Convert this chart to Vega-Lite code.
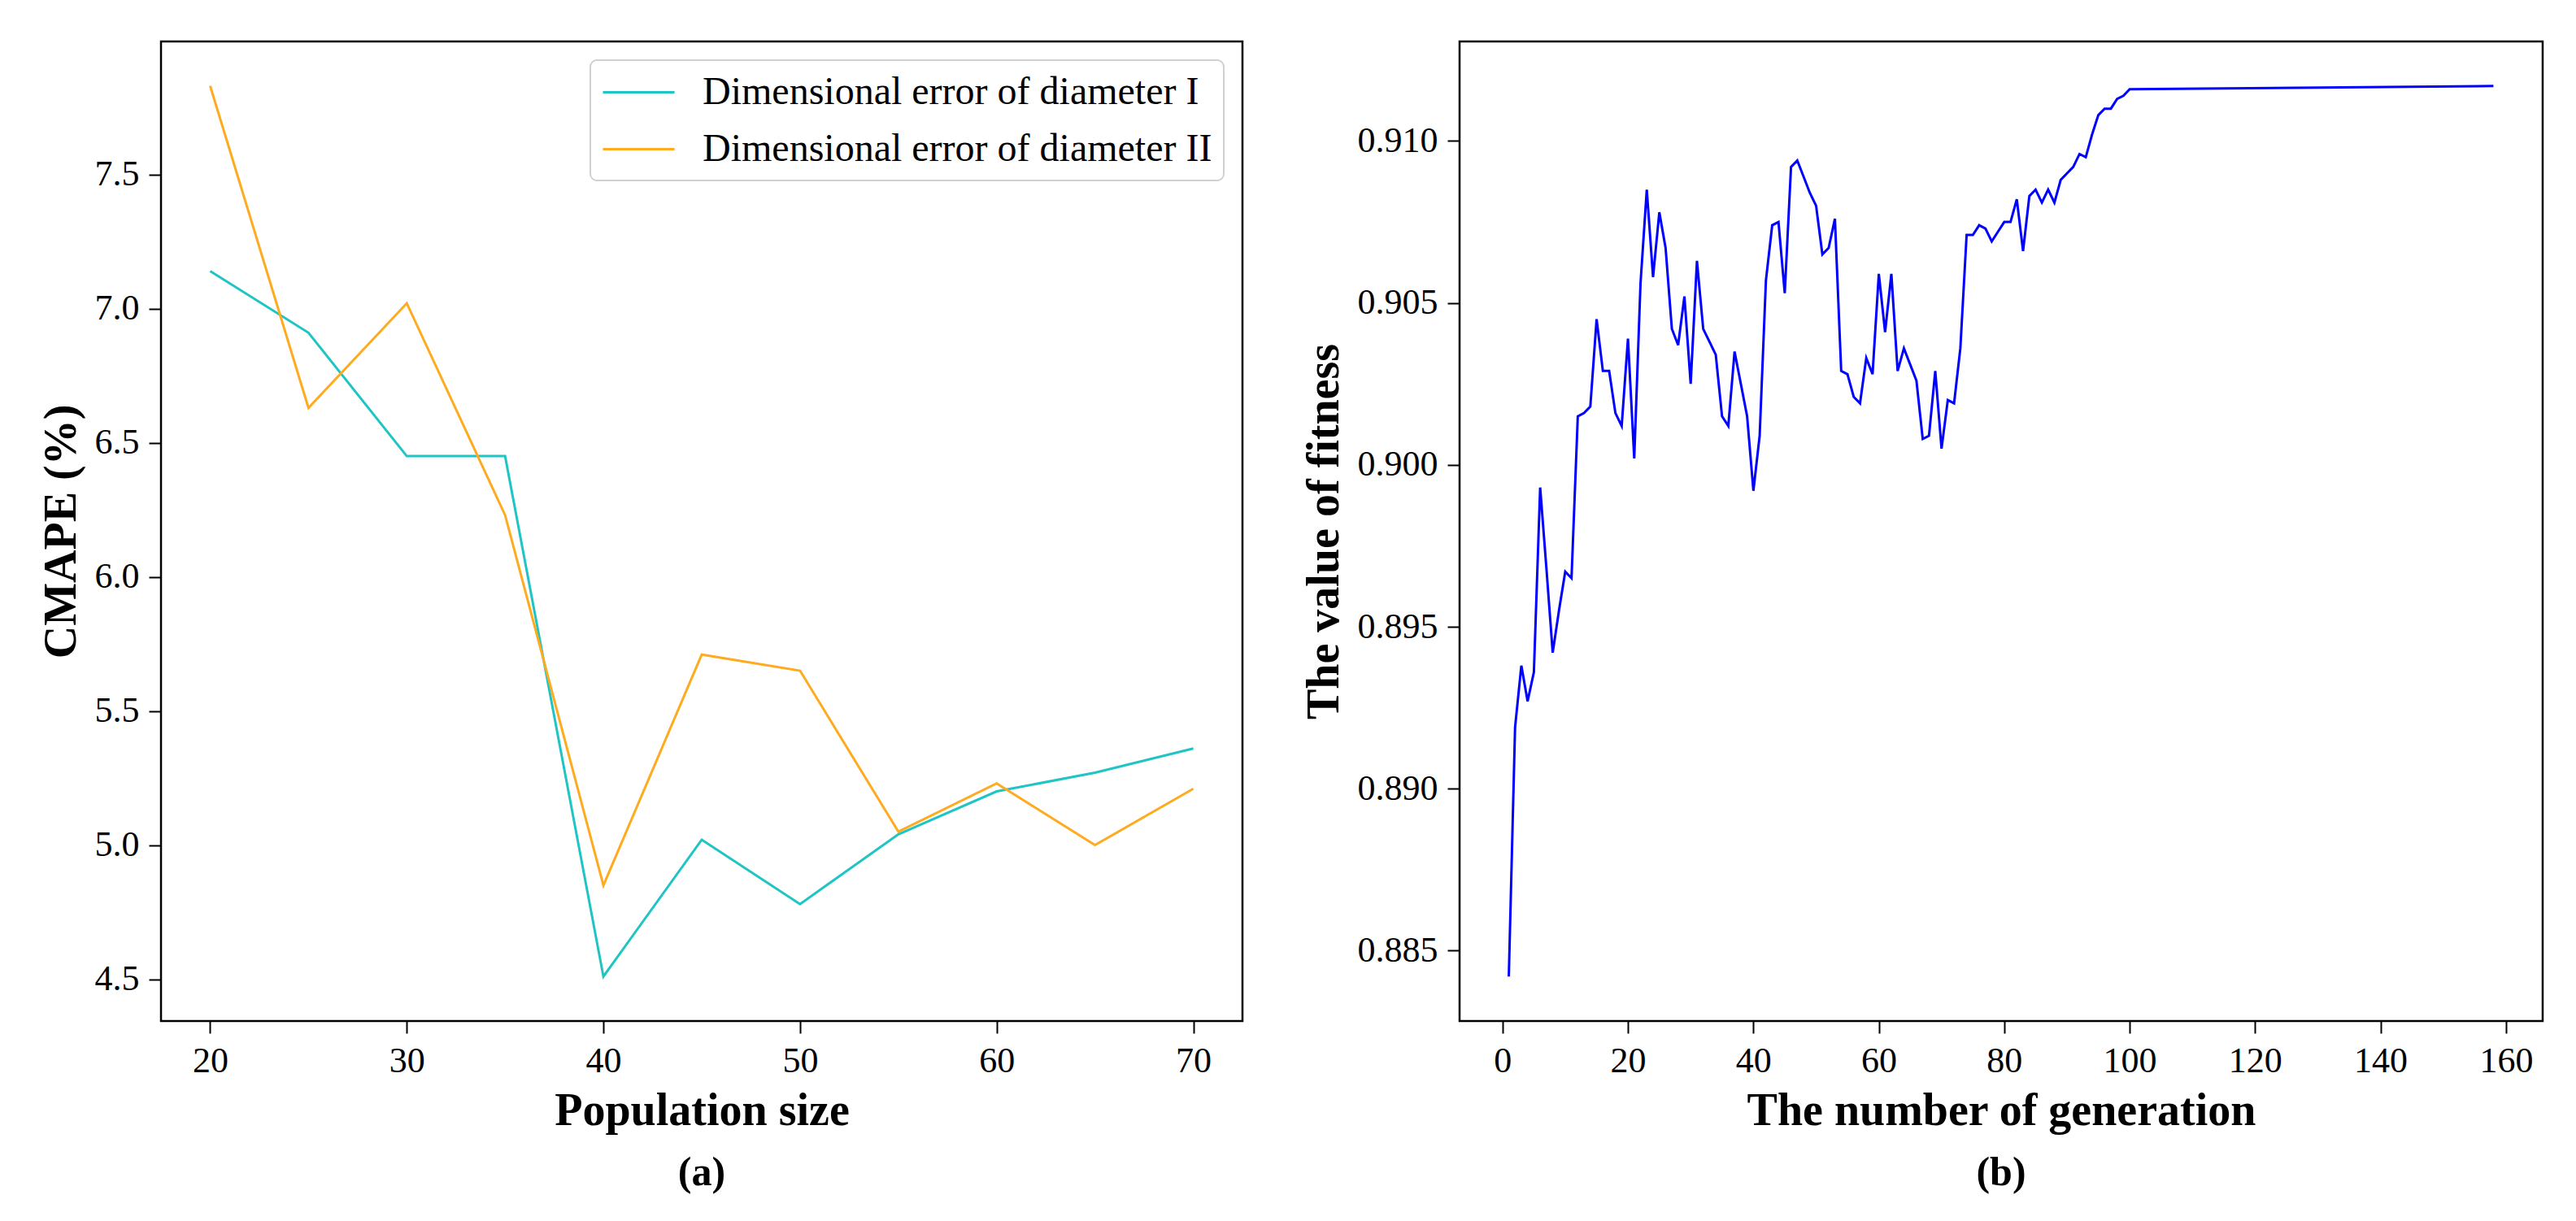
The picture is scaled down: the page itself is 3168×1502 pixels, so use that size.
{
  "$schema": "https://vega.github.io/schema/vega-lite/v6.json",
  "background": "white",
  "padding": {"left": 45, "top": 49, "right": 10, "bottom": 10},
  "spacing": 68,
  "datasets": {
    "cmape": [
      {"size": 20, "series": "Dimensional error of diameter I", "cmape": 7.14},
      {"size": 25, "series": "Dimensional error of diameter I", "cmape": 6.91},
      {"size": 30, "series": "Dimensional error of diameter I", "cmape": 6.45},
      {"size": 35, "series": "Dimensional error of diameter I", "cmape": 6.45},
      {"size": 40, "series": "Dimensional error of diameter I", "cmape": 4.51},
      {"size": 45, "series": "Dimensional error of diameter I", "cmape": 5.02},
      {"size": 50, "series": "Dimensional error of diameter I", "cmape": 4.78},
      {"size": 55, "series": "Dimensional error of diameter I", "cmape": 5.04},
      {"size": 60, "series": "Dimensional error of diameter I", "cmape": 5.20},
      {"size": 65, "series": "Dimensional error of diameter I", "cmape": 5.27},
      {"size": 70, "series": "Dimensional error of diameter I", "cmape": 5.36},
      {"size": 20, "series": "Dimensional error of diameter II", "cmape": 7.83},
      {"size": 25, "series": "Dimensional error of diameter II", "cmape": 6.63},
      {"size": 30, "series": "Dimensional error of diameter II", "cmape": 7.02},
      {"size": 35, "series": "Dimensional error of diameter II", "cmape": 6.23},
      {"size": 40, "series": "Dimensional error of diameter II", "cmape": 4.85},
      {"size": 45, "series": "Dimensional error of diameter II", "cmape": 5.71},
      {"size": 50, "series": "Dimensional error of diameter II", "cmape": 5.65},
      {"size": 55, "series": "Dimensional error of diameter II", "cmape": 5.05},
      {"size": 60, "series": "Dimensional error of diameter II", "cmape": 5.23},
      {"size": 65, "series": "Dimensional error of diameter II", "cmape": 5.00},
      {"size": 70, "series": "Dimensional error of diameter II", "cmape": 5.21}
    ],
    "fitness": [
      {"gen": 1, "fit": 0.8842}, {"gen": 2, "fit": 0.8919}, {"gen": 3, "fit": 0.8938}, {"gen": 4, "fit": 0.8927},
      {"gen": 5, "fit": 0.8936}, {"gen": 6, "fit": 0.8993}, {"gen": 7, "fit": 0.8968}, {"gen": 8, "fit": 0.8942},
      {"gen": 9, "fit": 0.8955}, {"gen": 10, "fit": 0.8967}, {"gen": 11, "fit": 0.8965}, {"gen": 12, "fit": 0.9015},
      {"gen": 13, "fit": 0.9016}, {"gen": 14, "fit": 0.9018}, {"gen": 15, "fit": 0.9045}, {"gen": 16, "fit": 0.9029},
      {"gen": 17, "fit": 0.9029}, {"gen": 18, "fit": 0.9016}, {"gen": 19, "fit": 0.9012}, {"gen": 20, "fit": 0.9039},
      {"gen": 21, "fit": 0.9002}, {"gen": 22, "fit": 0.9056}, {"gen": 23, "fit": 0.9085}, {"gen": 24, "fit": 0.9058},
      {"gen": 25, "fit": 0.9078}, {"gen": 26, "fit": 0.9067}, {"gen": 27, "fit": 0.9042}, {"gen": 28, "fit": 0.9037},
      {"gen": 29, "fit": 0.9052}, {"gen": 30, "fit": 0.9025}, {"gen": 31, "fit": 0.9063}, {"gen": 32, "fit": 0.9042},
      {"gen": 33, "fit": 0.9038}, {"gen": 34, "fit": 0.9034}, {"gen": 35, "fit": 0.9015}, {"gen": 36, "fit": 0.9012},
      {"gen": 37, "fit": 0.9035}, {"gen": 38, "fit": 0.9025}, {"gen": 39, "fit": 0.9015}, {"gen": 40, "fit": 0.8992},
      {"gen": 41, "fit": 0.9009}, {"gen": 42, "fit": 0.9057}, {"gen": 43, "fit": 0.9074}, {"gen": 44, "fit": 0.9075},
      {"gen": 45, "fit": 0.9053}, {"gen": 46, "fit": 0.9092}, {"gen": 47, "fit": 0.9094}, {"gen": 48, "fit": 0.9089},
      {"gen": 49, "fit": 0.9084}, {"gen": 50, "fit": 0.9080}, {"gen": 51, "fit": 0.9065}, {"gen": 52, "fit": 0.9067},
      {"gen": 53, "fit": 0.9076}, {"gen": 54, "fit": 0.9029}, {"gen": 55, "fit": 0.9028}, {"gen": 56, "fit": 0.9021},
      {"gen": 57, "fit": 0.9019}, {"gen": 58, "fit": 0.9033}, {"gen": 59, "fit": 0.9028}, {"gen": 60, "fit": 0.9059},
      {"gen": 61, "fit": 0.9041}, {"gen": 62, "fit": 0.9059}, {"gen": 63, "fit": 0.9029}, {"gen": 64, "fit": 0.9036},
      {"gen": 65, "fit": 0.9031}, {"gen": 66, "fit": 0.9026}, {"gen": 67, "fit": 0.9008}, {"gen": 68, "fit": 0.9009},
      {"gen": 69, "fit": 0.9029}, {"gen": 70, "fit": 0.9005}, {"gen": 71, "fit": 0.9020}, {"gen": 72, "fit": 0.9019},
      {"gen": 73, "fit": 0.9036}, {"gen": 74, "fit": 0.9071}, {"gen": 75, "fit": 0.9071}, {"gen": 76, "fit": 0.9074},
      {"gen": 77, "fit": 0.9073}, {"gen": 78, "fit": 0.9069}, {"gen": 79, "fit": 0.9072}, {"gen": 80, "fit": 0.9075},
      {"gen": 81, "fit": 0.9075}, {"gen": 82, "fit": 0.9082}, {"gen": 83, "fit": 0.9066}, {"gen": 84, "fit": 0.9083},
      {"gen": 85, "fit": 0.9085}, {"gen": 86, "fit": 0.9081}, {"gen": 87, "fit": 0.9085}, {"gen": 88, "fit": 0.9081},
      {"gen": 89, "fit": 0.9088}, {"gen": 90, "fit": 0.9090}, {"gen": 91, "fit": 0.9092}, {"gen": 92, "fit": 0.9096},
      {"gen": 93, "fit": 0.9095}, {"gen": 94, "fit": 0.9102}, {"gen": 95, "fit": 0.9108}, {"gen": 96, "fit": 0.9110},
      {"gen": 97, "fit": 0.9110}, {"gen": 98, "fit": 0.9113}, {"gen": 99, "fit": 0.9114}, {"gen": 100, "fit": 0.9116},
      {"gen": 158, "fit": 0.9117}
    ]
  },
  "hconcat": [
    {
      "width": 1330,
      "height": 1205,
      "data": {"name": "cmape"},
      "title": {"text": "(a)", "orient": "bottom", "font": "Liberation Serif", "fontSize": 50, "fontWeight": "bold", "color": "black", "offset": 24},
      "mark": {"type": "line", "strokeWidth": 3},
      "encoding": {
        "x": {"field": "size", "type": "quantitative", "title": "Population size",
              "scale": {"domain": [17.5, 72.5], "nice": false, "zero": false},
              "axis": {"values": [20, 30, 40, 50, 60, 70], "format": "d"}},
        "y": {"field": "cmape", "type": "quantitative", "title": "CMAPE (%)",
              "scale": {"domain": [4.344, 7.996], "nice": false, "zero": false},
              "axis": {"values": [4.5, 5.0, 5.5, 6.0, 6.5, 7.0, 7.5], "format": ".1f"}},
        "color": {"field": "series", "type": "nominal",
                  "scale": {"domain": ["Dimensional error of diameter I", "Dimensional error of diameter II"], "range": ["#1fc4c4", "#ffab1f"]},
                  "legend": {"title": null}}
      }
    },
    {
      "width": 1332,
      "height": 1205,
      "data": {"name": "fitness"},
      "title": {"text": "(b)", "orient": "bottom", "font": "Liberation Serif", "fontSize": 50, "fontWeight": "bold", "color": "black", "offset": 24},
      "mark": {"type": "line", "strokeWidth": 3, "color": "#0000ff"},
      "encoding": {
        "x": {"field": "gen", "type": "quantitative", "title": "The number of generation",
              "scale": {"domain": [-6.85, 165.85], "nice": false, "zero": false},
              "axis": {"values": [0, 20, 40, 60, 80, 100, 120, 140, 160], "format": "d"}},
        "y": {"field": "fit", "type": "quantitative", "title": "The value of fitness",
              "scale": {"domain": [0.882825, 0.913075], "nice": false, "zero": false},
              "axis": {"values": [0.885, 0.89, 0.895, 0.9, 0.905, 0.91], "format": ".3f"}}
      }
    }
  ],
  "resolve": {"scale": {"color": "independent"}},
  "config": {
    "font": "Liberation Serif",
    "view": {"stroke": "black", "strokeWidth": 2.5},
    "axis": {
      "labelFont": "Liberation Serif", "labelFontSize": 44, "labelColor": "black",
      "titleFont": "Liberation Serif", "titleFontSize": 56, "titleFontWeight": "bold", "titleColor": "black",
      "tickColor": "black", "tickSize": 15, "tickWidth": 2, "domain": false, "grid": false,
      "labelPadding": 12, "titlePadding": 12
    },
    "legend": {
      "orient": "top-right", "offset": 23,
      "labelFont": "Liberation Serif", "labelFontSize": 48, "labelColor": "black", "labelLimit": 1200,
      "fillColor": "white", "strokeColor": "#d0d0d0", "strokeWidth": 2, "cornerRadius": 8,
      "padding": 14, "rowPadding": 20,
      "symbolType": "M-1,0H2.67", "symbolSize": 2304, "symbolStrokeWidth": 3, "labelOffset": 73
    }
  }
}
